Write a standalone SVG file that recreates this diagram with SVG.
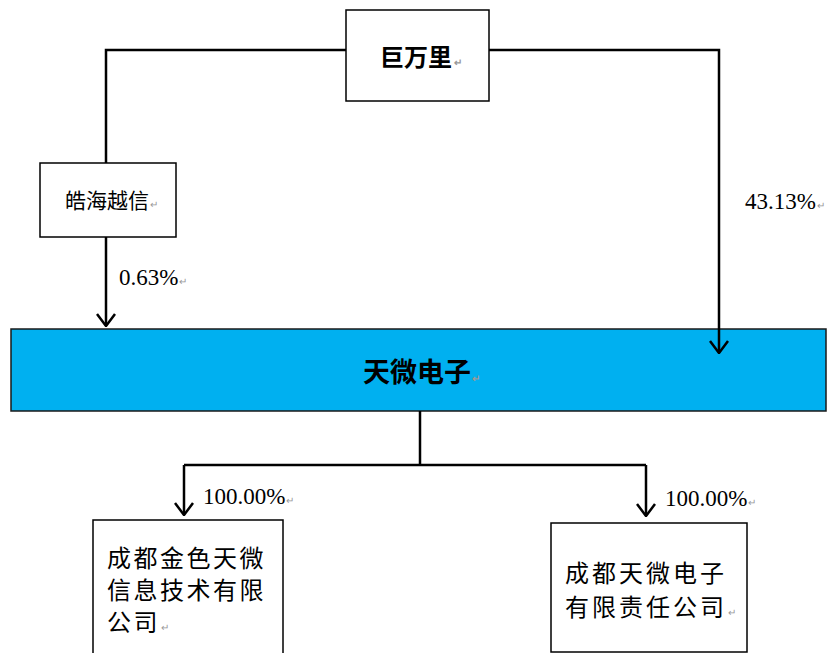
<svg xmlns="http://www.w3.org/2000/svg" width="832" height="653" viewBox="0 0 832 653">
<defs>
<style>
.box{fill:#fff;stroke:#000;stroke-width:1.5}
.main{fill:#00B0F0;stroke:#1a1a1a;stroke-width:1.5}
.cn{font-family:"SimSun","Noto Sans CJK SC",sans-serif;fill:#000}
.pct{font-family:"Liberation Serif",serif;font-size:23px;fill:#000}
.ret{font-family:"Liberation Sans",sans-serif;font-size:10px;fill:#999}
.ln{fill:none;stroke:#000;stroke-width:2.5}
</style>
<marker id="arr" viewBox="0 0 14 20" refX="13" refY="10" markerWidth="14" markerHeight="20" markerUnits="userSpaceOnUse" orient="auto">
<path d="M1,1 L13,10 L1,19" fill="none" stroke="#000" stroke-width="2.5"/>
</marker>
</defs>
<rect width="832" height="653" fill="#fff"/>
<g id="node-juwanli">
<rect class="box" x="346" y="10" width="143" height="91"/>
<text class="cn" x="380" y="66" font-size="24" font-weight="bold">巨万里<tspan class="ret" dx="2">↵</tspan></text>
</g>
<g id="node-haohai">
<rect class="box" x="40" y="163" width="136" height="74"/>
<text class="cn" x="65" y="208" font-size="21">皓海越信<tspan class="ret" dx="1">↵</tspan></text>
</g>
<g id="node-tianwei">
<rect class="main" x="11" y="329" width="815" height="82"/>
<text class="cn" x="363" y="382" font-size="27" font-weight="bold">天微电子<tspan class="ret" dx="1">↵</tspan></text>
</g>
<g id="node-jinse">
<rect class="box" x="93" y="520" width="190" height="140"/>
<text class="cn" font-size="24" letter-spacing="2.5">
<tspan x="107" y="567">成都金色天微</tspan>
<tspan x="107" y="599">信息技术有限</tspan>
<tspan x="107" y="631">公司<tspan class="ret" dx="1">↵</tspan></tspan>
</text>
</g>
<g id="node-chengdu">
<rect class="box" x="551" y="523" width="196" height="129"/>
<text class="cn" font-size="24" letter-spacing="3">
<tspan x="565" y="582">成都天微电子</tspan>
<tspan x="565" y="616">有限责任公司<tspan class="ret" dx="1">↵</tspan></tspan>
</text>
</g>
<g id="connectors">
<path class="ln" d="M346,50 H106 V163"/>
<path class="ln" d="M106,237 V326" marker-end="url(#arr)"/>
<path class="ln" d="M489,50 H719 V353" marker-end="url(#arr)"/>
<path class="ln" d="M420,411 V465"/>
<path class="ln" d="M184,465 H646"/>
<path class="ln" d="M184,465 V515" marker-end="url(#arr)"/>
<path class="ln" d="M646,465 V516" marker-end="url(#arr)"/>
<text class="pct" x="119" y="285">0.63%<tspan class="ret" dx="1">↵</tspan></text>
<text class="pct" x="745" y="209" font-size="21">43.13%<tspan class="ret" dx="1">↵</tspan></text>
<text class="pct" x="203" y="504">100.00%<tspan class="ret" dx="1">↵</tspan></text>
<text class="pct" x="665" y="506">100.00%<tspan class="ret" dx="1">↵</tspan></text>
</g>
</svg>
